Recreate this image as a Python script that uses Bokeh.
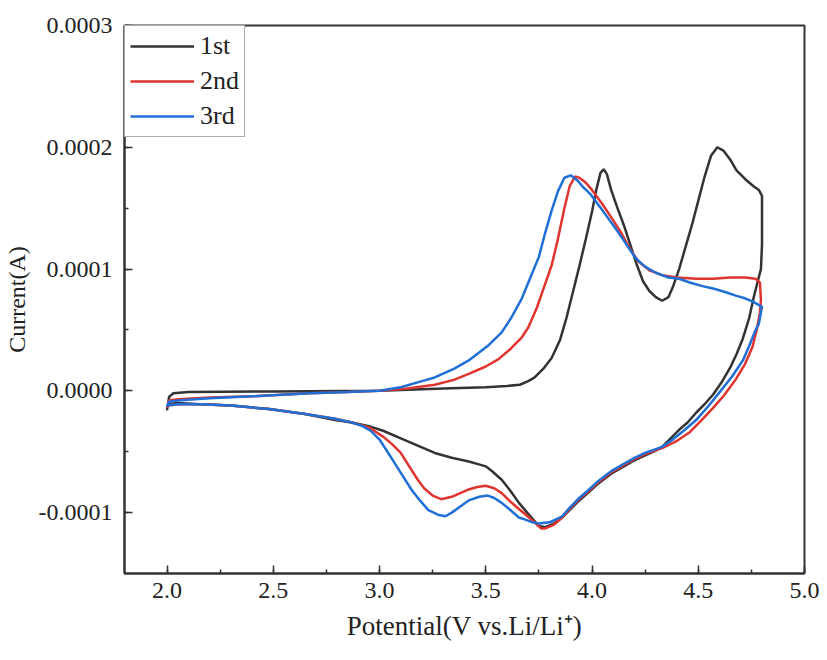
import numpy as np
from bokeh.plotting import figure
from bokeh.models import Range1d, SingleIntervalTicker, NumeralTickFormatter
from bokeh.embed import file_html
from bokeh.resources import INLINE

# Cyclic voltammetry, currents in units of 1e-4 A
x_1st = [2.00, 2.01, 2.03, 2.10, 2.50, 3.00, 3.30, 3.50, 3.60, 3.66, 3.70, 3.73,
         3.77, 3.81, 3.85, 3.88, 3.91, 3.94, 3.97, 4.00, 4.02, 4.04, 4.055, 4.07,
         4.09, 4.12, 4.15, 4.18, 4.21, 4.24, 4.27, 4.30, 4.33, 4.36, 4.38, 4.41,
         4.44, 4.47, 4.50, 4.53, 4.56, 4.59, 4.62, 4.65, 4.68, 4.72, 4.76, 4.785,
         4.80, 4.80, 4.795, 4.78, 4.76, 4.74, 4.71, 4.68, 4.65, 4.61, 4.57, 4.53,
         4.49, 4.45, 4.41, 4.37, 4.33, 4.29, 4.25, 4.20, 4.15, 4.09, 4.03, 3.98,
         3.94, 3.90, 3.86, 3.82, 3.78, 3.75, 3.72, 3.69, 3.656, 3.62, 3.575, 3.53,
         3.50, 3.46, 3.42, 3.34, 3.26, 3.18, 3.10, 3.02, 2.95, 2.87, 2.79, 2.65,
         2.48, 2.30, 2.16, 2.05, 2.00]
y_1st = [-0.16, -0.05, -0.02, -0.01, -0.005, 0.0, 0.02, 0.03, 0.04, 0.05, 0.08, 0.11,
         0.18, 0.27, 0.42, 0.60, 0.81, 1.02, 1.24, 1.47, 1.65, 1.79, 1.82, 1.78,
         1.65, 1.50, 1.36, 1.20, 1.04, 0.90, 0.82, 0.77, 0.74, 0.77, 0.85, 1.00,
         1.18, 1.36, 1.56, 1.76, 1.93, 2.00, 1.97, 1.90, 1.81, 1.74, 1.68, 1.65,
         1.60, 1.20, 1.00, 0.90, 0.76, 0.60, 0.43, 0.30, 0.19, 0.07, -0.03, -0.11,
         -0.18, -0.26, -0.32, -0.39, -0.46, -0.50, -0.53, -0.57, -0.62, -0.68, -0.76, -0.84,
         -0.90, -0.97, -1.04, -1.09, -1.12, -1.11, -1.05, -0.99, -0.92, -0.83, -0.73, -0.66,
         -0.62, -0.60, -0.58, -0.55, -0.51, -0.45, -0.39, -0.33, -0.29, -0.26, -0.24, -0.19,
         -0.15, -0.12, -0.11, -0.10, -0.11]

x_2nd = [2.00, 2.01, 2.05, 2.20, 2.40, 2.67, 2.85, 3.00, 3.13, 3.26, 3.35, 3.42,
         3.50, 3.56, 3.62, 3.67, 3.70, 3.74, 3.78, 3.81, 3.84, 3.87, 3.895, 3.92,
         3.94, 3.97, 4.00, 4.05, 4.10, 4.14, 4.18, 4.22, 4.27, 4.33, 4.40, 4.49,
         4.57, 4.65, 4.72, 4.77, 4.79, 4.795, 4.79, 4.775, 4.755, 4.72, 4.675, 4.62,
         4.57, 4.51, 4.46, 4.40, 4.33, 4.25, 4.20, 4.15, 4.09, 4.03, 3.98, 3.94,
         3.90, 3.86, 3.82, 3.78, 3.76, 3.73, 3.69, 3.656, 3.61, 3.575, 3.54, 3.50,
         3.46, 3.42, 3.38, 3.34, 3.29, 3.25, 3.21, 3.18, 3.14, 3.10, 3.06, 3.02,
         2.95, 2.87, 2.79, 2.65, 2.48, 2.30, 2.16, 2.05, 2.00]
y_2nd = [-0.14, -0.08, -0.07, -0.055, -0.045, -0.02, -0.01, 0.0, 0.02, 0.05, 0.09, 0.14,
         0.20, 0.26, 0.35, 0.44, 0.52, 0.68, 0.88, 1.03, 1.25, 1.50, 1.68, 1.76,
         1.75, 1.71, 1.65, 1.53, 1.40, 1.29, 1.16, 1.06, 0.99, 0.95, 0.93, 0.92,
         0.92, 0.93, 0.93, 0.92, 0.89, 0.75, 0.64, 0.50, 0.36, 0.22, 0.09, -0.04,
         -0.14, -0.25, -0.34, -0.41, -0.47, -0.52, -0.56, -0.61, -0.67, -0.75, -0.83, -0.89,
         -0.96, -1.04, -1.10, -1.13, -1.13, -1.08, -1.02, -0.97, -0.90, -0.84, -0.80, -0.78,
         -0.79, -0.81, -0.84, -0.87, -0.89, -0.86, -0.80, -0.73, -0.62, -0.51, -0.44, -0.38,
         -0.30, -0.26, -0.23, -0.19, -0.15, -0.12, -0.11, -0.11, -0.12]

x_3rd = [2.00, 2.01, 2.05, 2.20, 2.40, 2.67, 2.85, 3.00, 3.10, 3.20, 3.26, 3.35,
         3.42, 3.51, 3.575, 3.62, 3.67, 3.71, 3.75, 3.78, 3.81, 3.84, 3.87, 3.90,
         3.93, 3.96, 3.99, 4.05, 4.10, 4.14, 4.17, 4.21, 4.25, 4.30, 4.36, 4.41,
         4.46, 4.52, 4.57, 4.63, 4.68, 4.72, 4.76, 4.80, 4.785, 4.77, 4.74, 4.71,
         4.66, 4.61, 4.55, 4.49, 4.43, 4.38, 4.33, 4.25, 4.20, 4.15, 4.09, 4.03,
         3.98, 3.94, 3.90, 3.86, 3.80, 3.75, 3.72, 3.69, 3.656, 3.61, 3.575, 3.54,
         3.51, 3.47, 3.42, 3.38, 3.34, 3.31, 3.28, 3.23, 3.19, 3.15, 3.11, 3.07,
         3.03, 3.00, 2.96, 2.92, 2.87, 2.79, 2.65, 2.48, 2.30, 2.16, 2.05, 2.00]
y_3rd = [-0.13, -0.09, -0.08, -0.06, -0.045, -0.02, -0.01, 0.0, 0.03, 0.08, 0.11, 0.18,
         0.25, 0.37, 0.48, 0.60, 0.76, 0.93, 1.10, 1.30, 1.48, 1.64, 1.75, 1.77,
         1.73, 1.67, 1.62, 1.48, 1.36, 1.26, 1.18, 1.08, 1.02, 0.97, 0.93, 0.92,
         0.89, 0.86, 0.84, 0.81, 0.78, 0.76, 0.73, 0.69, 0.55, 0.50, 0.37, 0.25,
         0.12, 0.01, -0.12, -0.24, -0.33, -0.40, -0.46, -0.51, -0.55, -0.60, -0.66, -0.74,
         -0.82, -0.88, -0.95, -1.03, -1.08, -1.09, -1.08, -1.06, -1.04, -0.97, -0.92, -0.88,
         -0.86, -0.87, -0.90, -0.95, -1.00, -1.03, -1.02, -0.98, -0.90, -0.81, -0.70, -0.59,
         -0.48, -0.40, -0.33, -0.29, -0.26, -0.23, -0.19, -0.15, -0.12, -0.11, -0.11, -0.12]

cycles = ["1st", "2nd", "3rd"]
colors = ["#333333", "#e0342f", "#1f6fd6"]

serif = "Liberation Serif"

# tiny pad on the top end so the 0.0003 tick survives float rounding
p = figure(width=820, height=652, output_backend="svg", toolbar_location=None,
           x_range=Range1d(1.8, 5.0), y_range=Range1d(-0.00015, 0.00030001),
           x_axis_label="Potential(V vs.Li/Li\u207a)", y_axis_label="Current(A)",
           min_border_left=124, min_border_right=16, min_border_top=25,
           min_border_bottom=79)

p.grid.visible = False
p.outline_line_color = "#333333"
p.outline_line_width = 2
p.outline_line_alpha = 1.0

for xs, ys, name, col in zip([x_1st, x_2nd, x_3rd], [y_1st, y_2nd, y_3rd], cycles, colors):
    p.line(np.array(xs), np.array(ys) * 1e-4, line_color=col, line_width=2.5,
           legend_label=name)

p.xaxis.ticker = SingleIntervalTicker(interval=0.5, num_minor_ticks=2)
p.yaxis.ticker = SingleIntervalTicker(interval=0.0001, num_minor_ticks=2)
p.xaxis.formatter = NumeralTickFormatter(format="0.0")
p.yaxis.formatter = NumeralTickFormatter(format="0.0000")

for ax in (p.xaxis, p.yaxis):
    ax.axis_line_color = "#333333"
    ax.axis_line_width = 2
    ax.major_tick_in = 8
    ax.major_tick_out = 0
    ax.minor_tick_in = 4
    ax.minor_tick_out = 0
    ax.major_tick_line_color = "#333333"
    ax.major_tick_line_width = 1.5
    ax.minor_tick_line_color = "#333333"
    ax.minor_tick_line_width = 1.5
    ax.major_label_text_font = serif
    ax.major_label_text_font_size = "24px"
    ax.major_label_text_color = "#222222"
    ax.axis_label_text_font = serif
    ax.axis_label_text_font_style = "normal"
    ax.axis_label_text_color = "#222222"
    ax.major_label_standoff = 12

p.xaxis.major_label_standoff = 9
p.xaxis.axis_label_text_font_size = "27px"
p.yaxis.axis_label_text_font_size = "24px"
p.xaxis.axis_label_standoff = 10
p.yaxis.axis_label_standoff = 6

leg = p.legend[0]
leg.location = "top_left"
leg.margin = 0
leg.padding = 5
leg.spacing = 5
leg.glyph_width = 64
leg.glyph_height = 30
leg.label_height = 30
leg.label_standoff = 6
leg.label_text_font = serif
leg.label_text_font_size = "26px"
leg.label_text_color = "#222222"
leg.border_line_color = "#555555"
leg.border_line_width = 1.5
leg.background_fill_alpha = 1.0

open("out.html", "w").write(file_html(p, INLINE))
